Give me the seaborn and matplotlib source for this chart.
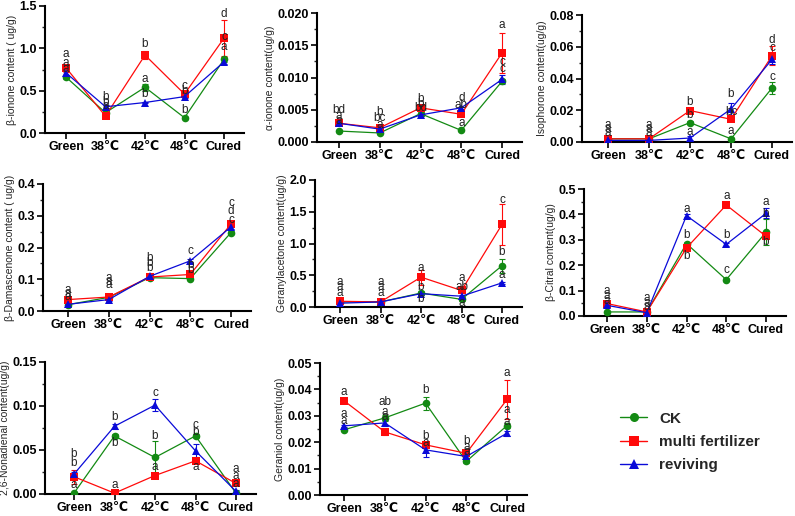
import numpy as np
import pandas as pd
import seaborn as sns
import matplotlib.pyplot as plt
from matplotlib.lines import Line2D
from matplotlib.ticker import AutoMinorLocator, FormatStrFormatter

categories = ["Green", "38℃", "42℃", "48℃", "Cured"]
treatments = ["CK", "multi fertilizer", "reviving"]

# beta-ionone
bion_ck = [0.66, 0.24, 0.54, 0.18, 0.87]
bion_mf = [0.77, 0.20, 0.92, 0.46, 1.12]
bion_rv = [0.71, 0.31, 0.36, 0.43, 0.84]
bion_ck_err = [0.02, 0.02, 0.04, 0.01, 0.03]
bion_mf_err = [0.05, 0.02, 0.05, 0.03, 0.21]
bion_rv_err = [0.02, 0.02, 0.01, 0.02, 0.02]

# alpha-ionone
aion_ck = [0.0017, 0.0014, 0.0044, 0.0018, 0.0094]
aion_mf = [0.0029, 0.0022, 0.0053, 0.0043, 0.0138]
aion_rv = [0.0029, 0.0020, 0.0042, 0.0053, 0.0097]
aion_ck_err = [0.0001, 0.0001, 0.0002, 0.0001, 0.0003]
aion_mf_err = [0.0002, 0.0002, 0.0003, 0.0003, 0.0031]
aion_rv_err = [0.0001, 0.0001, 0.0002, 0.0002, 0.0007]

# isophorone
iso_ck = [0.002, 0.002, 0.0122, 0.002, 0.034]
iso_mf = [0.002, 0.002, 0.0198, 0.0143, 0.0543]
iso_rv = [0.001, 0.001, 0.0025, 0.0208, 0.052]
iso_ck_err = [0.0002, 0.0002, 0.001, 0.0002, 0.004]
iso_mf_err = [0.0002, 0.0002, 0.001, 0.001, 0.006]
iso_rv_err = [0.0002, 0.0002, 0.001, 0.004, 0.003]

# beta-damascenone
dam_ck = [0.020, 0.043, 0.105, 0.102, 0.247]
dam_mf = [0.036, 0.044, 0.107, 0.115, 0.274]
dam_rv = [0.021, 0.036, 0.109, 0.158, 0.265]
dam_ck_err = [0.003, 0.003, 0.003, 0.003, 0.005]
dam_mf_err = [0.004, 0.003, 0.003, 0.005, 0.01]
dam_rv_err = [0.003, 0.003, 0.003, 0.005, 0.008]

# geranylacetone
ger_ck = [0.08, 0.08, 0.22, 0.12, 0.65]
ger_mf = [0.09, 0.08, 0.47, 0.26, 1.30]
ger_rv = [0.06, 0.08, 0.21, 0.17, 0.38]
ger_ck_err = [0.01, 0.01, 0.03, 0.02, 0.11]
ger_mf_err = [0.01, 0.01, 0.12, 0.03, 0.32]
ger_rv_err = [0.01, 0.01, 0.02, 0.02, 0.02]

# beta-citral
cit_ck = [0.016, 0.016, 0.285, 0.143, 0.33]
cit_mf = [0.049, 0.016, 0.268, 0.437, 0.314]
cit_rv = [0.042, 0.013, 0.395, 0.282, 0.404]
cit_ck_err = [0.003, 0.003, 0.008, 0.005, 0.05]
cit_mf_err = [0.004, 0.003, 0.008, 0.006, 0.01]
cit_rv_err = [0.004, 0.003, 0.006, 0.005, 0.02]

# 2,6-nonadienal
non_ck = [0.001, 0.066, 0.0415, 0.066, 0.001]
non_mf = [0.0196, 0.001, 0.021, 0.0377, 0.012]
non_rv = [0.0226, 0.077, 0.101, 0.049, 0.003]
non_ck_err = [0.0005, 0.002, 0.019, 0.002, 0.0005]
non_mf_err = [0.008, 0.0005, 0.001, 0.003, 0.001]
non_rv_err = [0.002, 0.003, 0.007, 0.008, 0.001]

# geraniol
gol_ck = [0.0247, 0.0292, 0.0348, 0.0127, 0.0263]
gol_mf = [0.0357, 0.0239, 0.019, 0.0158, 0.0362]
gol_rv = [0.0262, 0.0273, 0.0171, 0.0146, 0.0234]
gol_ck_err = [0.0005, 0.001, 0.0025, 0.0005, 0.001]
gol_mf_err = [0.0005, 0.001, 0.001, 0.0005, 0.0075]
gol_rv_err = [0.0005, 0.001, 0.0027, 0.0005, 0.001]

# significance letters: (category index, y, letter)
bion_letters = [(0, 0.93, 'a'), (0, 0.83, 'a'), (0, 0.76, 'a'),
                (1, 0.43, 'b'), (1, 0.37, 'b'), (1, 0.32, 'a'),
                (2, 1.05, 'b'), (2, 0.64, 'a'), (2, 0.46, 'b'),
                (3, 0.56, 'c'), (3, 0.50, 'b'), (3, 0.27, 'b'),
                (4, 1.40, 'd'), (4, 1.13, 'c'), (4, 1.01, 'a')]
aion_letters = [(0, 0.0049, 'bd'), (0, 0.0041, 'a'), (0, 0.0032, 'a'),
                (1, 0.0047, 'b'), (1, 0.0037, 'bc'), (1, 0.0027, 'a'),
                (2, 0.0067, 'b'), (2, 0.0059, 'b'), (2, 0.0052, 'bd'),
                (3, 0.0068, 'd'), (3, 0.0057, 'ab'), (3, 0.0029, 'a'),
                (4, 0.0181, 'a'), (4, 0.0124, 'c'), (4, 0.0113, 'c')]
iso_letters = [(0, 0.011, 'a'), (0, 0.008, 'a'), (0, 0.0055, 'a'),
               (1, 0.011, 'a'), (1, 0.008, 'a'), (1, 0.0055, 'a'),
               (2, 0.025, 'b'), (2, 0.017, 'b'), (2, 0.0063, 'a'),
               (3, 0.030, 'b'), (3, 0.019, 'bc'), (3, 0.0067, 'a'),
               (4, 0.064, 'd'), (4, 0.059, 'c'), (4, 0.041, 'c')]
dam_letters = [(0, 0.065, 'a'), (0, 0.055, 'a'), (0, 0.045, 'a'),
               (1, 0.103, 'a'), (1, 0.092, 'a'), (1, 0.081, 'a'),
               (2, 0.168, 'b'), (2, 0.150, 'b'), (2, 0.135, 'b'),
               (3, 0.19, 'c'), (3, 0.146, 'b'), (3, 0.128, 'b'),
               (4, 0.34, 'c'), (4, 0.316, 'd'), (4, 0.288, 'c')]
ger_letters = [(0, 0.40, 'a'), (0, 0.31, 'a'), (0, 0.22, 'a'),
               (1, 0.40, 'a'), (1, 0.31, 'a'), (1, 0.22, 'a'),
               (2, 0.62, 'a'), (2, 0.32, 'b'), (2, 0.13, 'b'),
               (3, 0.45, 'a'), (3, 0.32, 'ab'), (3, 0.07, 'a'),
               (4, 1.69, 'c'), (4, 0.86, 'b'), (4, 0.51, 'a')]
cit_letters = [(0, 0.10, 'a'), (0, 0.08, 'a'), (0, 0.06, 'a'),
               (1, 0.07, 'a'), (1, 0.05, 'a'), (1, 0.035, 'a'),
               (2, 0.42, 'a'), (2, 0.318, 'b'), (2, 0.236, 'b'),
               (3, 0.474, 'a'), (3, 0.32, 'b'), (3, 0.18, 'c'),
               (4, 0.45, 'a'), (4, 0.40, 'b'), (4, 0.29, 'b')]
non_letters = [(0, 0.046, 'b'), (0, 0.035, 'b'), (0, 0.010, 'a'),
               (1, 0.087, 'b'), (1, 0.058, 'b'), (1, 0.0105, 'a'),
               (2, 0.115, 'c'), (2, 0.066, 'b'), (2, 0.031, 'a'),
               (3, 0.078, 'c'), (3, 0.070, 'b'), (3, 0.031, 'a'),
               (4, 0.028, 'a'), (4, 0.020, 'a'), (4, 0.0117, 'a')]
gol_letters = [(0, 0.039, 'a'), (0, 0.0307, 'a'), (0, 0.028, 'a'),
               (1, 0.0352, 'ab'), (1, 0.0316, 'a'), (1, 0.0295, 'a'),
               (2, 0.0396, 'b'), (2, 0.0222, 'b'), (2, 0.0196, 'a'),
               (3, 0.0203, 'b'), (3, 0.018, 'a'), (3, 0.0163, 'a'),
               (4, 0.0462, 'a'), (4, 0.0323, 'a'), (4, 0.0275, 'a')]

colors = {"CK": "#138a13", "multi fertilizer": "#ff0a0a", "reviving": "#0a0ad8"}
markers = {"CK": "o", "multi fertilizer": "s", "reviving": "^"}

# panel: ylabel, values, errors, letters, ymax, ystep, fmt, pixel box (yaxis_x, green_x, cured_x, top, bottom)
panels = [
    ("β-ionone content ( ug/g)", (bion_ck, bion_mf, bion_rv), (bion_ck_err, bion_mf_err, bion_rv_err),
     bion_letters, 1.5, 0.5, '%.1f', (45, 66, 224, 6, 133)),
    ("α-ionone content(ug/g)", (aion_ck, aion_mf, aion_rv), (aion_ck_err, aion_mf_err, aion_rv_err),
     aion_letters, 0.02, 0.005, '%.3f', (317, 339, 502, 13, 142)),
    ("Isophorone content(ug/g)", (iso_ck, iso_mf, iso_rv), (iso_ck_err, iso_mf_err, iso_rv_err),
     iso_letters, 0.08, 0.02, '%.2f', (582, 608, 772, 15, 142)),
    ("β-Damascenone content ( ug/g)", (dam_ck, dam_mf, dam_rv), (dam_ck_err, dam_mf_err, dam_rv_err),
     dam_letters, 0.4, 0.1, '%.1f', (43, 68, 231, 184, 311)),
    ("Geranylacetone content(ug/g)", (ger_ck, ger_mf, ger_rv), (ger_ck_err, ger_mf_err, ger_rv_err),
     ger_letters, 2.0, 0.5, '%.1f', (315, 340, 502, 180, 307)),
    ("β-Citral content(ug/g)", (cit_ck, cit_mf, cit_rv), (cit_ck_err, cit_mf_err, cit_rv_err),
     cit_letters, 0.5, 0.1, '%.1f', (584, 607, 766, 189, 316)),
    ("2,6-Nonadienal content(ug/g)", (non_ck, non_mf, non_rv), (non_ck_err, non_mf_err, non_rv_err),
     non_letters, 0.15, 0.05, '%.2f', (45, 74, 236, 362, 494)),
    ("Geraniol content(ug/g)", (gol_ck, gol_mf, gol_rv), (gol_ck_err, gol_mf_err, gol_rv_err),
     gol_letters, 0.05, 0.01, '%.2f', (320, 344, 507, 363, 495)),
]

sns.set_style("ticks")
plt.rcParams['font.family'] = ['Liberation Sans', 'DejaVu Sans']

W, H = 795, 516
fig = plt.figure(figsize=(W / 100, H / 100), dpi=100)

for ylabel, vals, errs, letters, ymax, ystep, fmt, box in panels:
    yx, gx, cx, top, bot = box
    sp = (cx - gx) / 4
    x0 = -(gx - yx) / sp
    right = gx + 4.5 * sp
    ax = fig.add_axes([yx / W, 1 - bot / H, (right - yx) / W, (bot - top) / H])

    df = pd.DataFrame({
        "pos": np.tile(np.arange(len(categories)), len(treatments)),
        "value": np.concatenate(vals),
        "treatment": np.repeat(treatments, len(categories)),
    })
    for t, v, e in zip(treatments, vals, errs):
        ax.errorbar(np.arange(len(categories)), v, yerr=e, fmt='none', ecolor=colors[t],
                    elinewidth=0.8, capsize=2.5, capthick=0.8, zorder=2)
    sns.lineplot(data=df, x="pos", y="value", hue="treatment", style="treatment",
                 palette=colors, markers=markers, dashes=False, markersize=5.5,
                 markeredgewidth=0, linewidth=0.9, legend=False, ax=ax, zorder=3)

    for i, y, s in letters:
        ax.text(i, y, s, ha='center', va='center', fontsize=8.5, color='#222222', zorder=4)

    ax.set_xlim(x0, 4.5)
    ax.set_ylim(0, ymax)
    ax.set_yticks(np.arange(0, ymax + ystep / 2, ystep))
    ax.yaxis.set_major_formatter(FormatStrFormatter(fmt))
    ax.yaxis.set_minor_locator(AutoMinorLocator(2))
    ax.set_xticks(range(len(categories)))
    ax.set_xticklabels(categories)
    ax.set_xlabel("")
    ax.set_ylabel(ylabel, fontsize=7.5, labelpad=1.5)
    for lab in ax.get_xticklabels() + ax.get_yticklabels():
        lab.set_fontweight('bold')
        lab.set_fontsize(9)
    ax.tick_params(axis='both', which='major', length=4, width=1.2, pad=2, colors='black')
    ax.tick_params(axis='y', which='minor', length=2.5, width=1.0)
    sns.despine(ax=ax)
    for s in ['left', 'bottom']:
        ax.spines[s].set_linewidth(1.5)
        ax.spines[s].set_color('black')
    ax.set_facecolor('none')

handles = [Line2D([0], [0], color=colors[t], marker=markers[t], markersize=6.5,
                  markeredgewidth=0, linewidth=1.0) for t in treatments]
fig.legend(handles, treatments, loc='upper left', bbox_to_anchor=(606 / W, 1 - 398 / H),
           frameon=False, prop={'weight': 'bold', 'size': 11}, handlelength=1.8,
           labelspacing=0.6, handletextpad=0.8)

fig.savefig("out.png", dpi=100)
